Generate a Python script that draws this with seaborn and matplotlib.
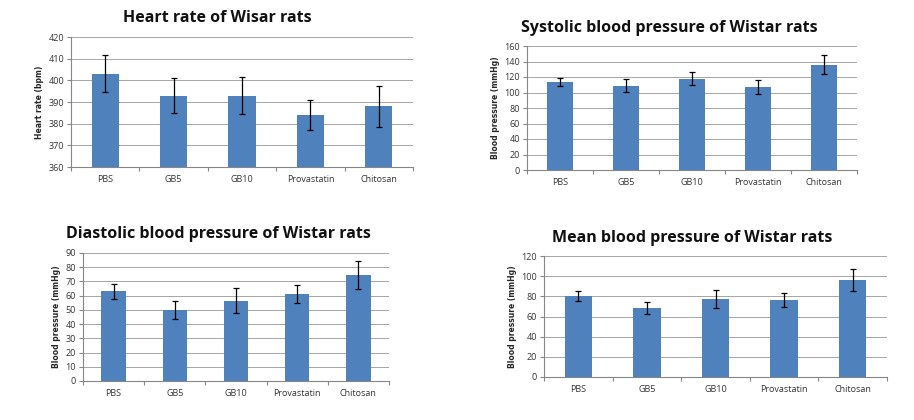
import matplotlib
matplotlib.use("Agg")
import matplotlib.pyplot as plt
import numpy as np
import pandas as pd
import seaborn as sns

groups = ["PBS", "GB5", "GB10", "Provastatin", "Chitosan"]

heart_rate = [403, 393, 393, 384, 388]
heart_rate_err = [8.5, 8.3, 8.5, 6.8, 9.5]

systolic = [114, 109, 118, 107, 136]
systolic_err = [5, 8, 8.5, 8.5, 12.5]

diastolic = [63, 50, 56.5, 61, 74.5]
diastolic_err = [5.5, 6.5, 9, 6.3, 10]

mean_bp = [80.5, 68.5, 77.5, 76.5, 96]
mean_bp_err = [4.8, 5.8, 8.7, 6.7, 11]

BAR_COLOR = "#4F81BD"

sns.set_theme(style="white")
plt.rcParams["font.family"] = ["Open Sans", "DejaVu Sans"]

fig = plt.figure(figsize=(9.14, 4.2), dpi=100)
W, H = 914, 420


def add_axes(left, top, right, bottom):
    return fig.add_axes([left / W, 1 - bottom / H, (right - left) / W, (bottom - top) / H])


panels = [
    dict(box=(71, 37, 413, 167), title="Heart rate of Wisar rats", title_xy=(217, 18),
         ylabel="Heart rate (bpm)", vals=heart_rate, errs=heart_rate_err,
         ylim=(360, 420), step=10),
    dict(box=(527, 46, 857, 170), title="Systolic blood pressure of Wistar rats", title_xy=(669, 28),
         ylabel="Blood pressure (mmHg)", vals=systolic, errs=systolic_err,
         ylim=(0, 160), step=20),
    dict(box=(83, 253, 389, 381), title="Diastolic blood pressure of Wistar rats", title_xy=(218, 234),
         ylabel="Blood pressure (mmHg)", vals=diastolic, errs=diastolic_err,
         ylim=(0, 90), step=10),
    dict(box=(544, 256, 887, 377), title="Mean blood pressure of Wistar rats", title_xy=(692, 238),
         ylabel="Blood pressure (mmHg)", vals=mean_bp, errs=mean_bp_err,
         ylim=(0, 120), step=20),
]

for p in panels:
    ax = add_axes(*p["box"])
    df = pd.DataFrame({"group": groups, "value": p["vals"]})
    lo, hi = p["ylim"]
    sns.barplot(data=df, x="group", y="value", color=BAR_COLOR, saturation=1,
                width=0.4, errorbar=None, ax=ax, zorder=3, linewidth=0)
    # bars for a non-zero baseline: redraw from axis bottom
    if lo > 0:
        for patch in ax.patches:
            patch.set_y(lo)
            patch.set_height(patch.get_height() - lo)
    ax.errorbar(np.arange(len(groups)), p["vals"], yerr=p["errs"], fmt="none",
                ecolor="black", elinewidth=0.9, capsize=2.2, capthick=0.9, zorder=4)
    ax.set_ylim(lo, hi)
    ax.set_xlim(-0.5, len(groups) - 0.5)
    ax.set_yticks(np.arange(lo, hi + 1, p["step"]))
    ax.yaxis.grid(True, color="#a6a6a6", linewidth=0.7, zorder=0)
    ax.set_axisbelow(True)
    for s in ["top", "right"]:
        ax.spines[s].set_visible(False)
    for s in ["left", "bottom"]:
        ax.spines[s].set_color("#868686")
        ax.spines[s].set_linewidth(0.8)
    ax.set_xticks(np.arange(-0.5, len(groups)), minor=True)
    ax.tick_params(axis="x", which="major", length=0, labelsize=6.5, pad=6, colors="#333333")
    ax.tick_params(axis="x", which="minor", length=3, width=0.8, color="#868686", direction="out", bottom=True)
    ax.tick_params(axis="y", length=3, width=0.8, color="#868686", direction="out", left=True,
                   labelsize=6.5, colors="#333333", pad=2)
    ax.set_xlabel("")
    ax.set_ylabel(p["ylabel"], fontsize=5.5, fontweight="bold", family=["Liberation Sans Narrow", "DejaVu Sans"],
                  labelpad=3)
    tx, ty = p["title_xy"]
    fig.text(tx / W, 1 - ty / H, p["title"], ha="center", va="center",
             fontsize=11.5, fontweight="bold", color="#111111")

fig.savefig("out.png", dpi=100)
